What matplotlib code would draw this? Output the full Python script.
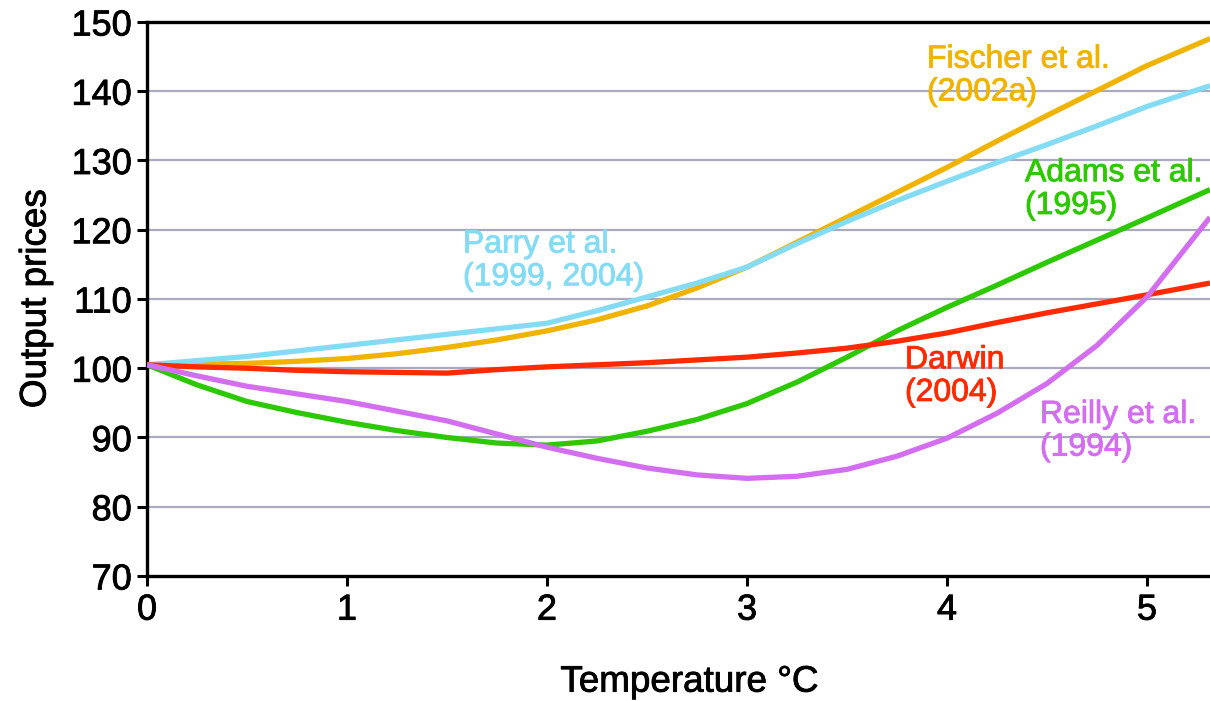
import matplotlib
matplotlib.use('Agg')
import matplotlib.pyplot as plt
import matplotlib.patheffects as pe

plt.rcParams['font.family'] = ['Liberation Sans', 'DejaVu Sans']

temps = [0, 0.25, 0.5, 0.75, 1.0, 1.25, 1.5, 1.75, 2.0, 2.25, 2.5, 2.75,
         3.0, 3.25, 3.5, 3.75, 4.0, 4.25, 4.5, 4.75, 5.0, 5.315]

fischer = [100.5, 100.6, 100.7, 101.0, 101.4, 102.1, 103.0, 104.1, 105.4, 107.0, 109.0, 111.6,
           114.6, 118.2, 121.8, 125.4, 129.0, 132.8, 136.5, 140.1, 143.7, 147.6]
parry = [100.5, 101.1, 101.7, 102.5, 103.3, 104.1, 104.9, 105.7, 106.5, 108.3, 110.3, 112.3,
         114.6, 118.0, 121.2, 124.2, 127.0, 129.7, 132.3, 135.0, 137.8, 140.8]
adams = [100.5, 97.6, 95.2, 93.6, 92.2, 91.0, 90.0, 89.2, 88.9, 89.5, 90.9, 92.6,
         94.9, 98.0, 101.6, 105.4, 108.8, 112.0, 115.3, 118.5, 121.7, 125.8]
darwin = [100.5, 100.2, 100.0, 99.7, 99.5, 99.4, 99.3, 99.8, 100.2, 100.5, 100.8, 101.2,
          101.6, 102.2, 102.9, 103.9, 105.1, 106.6, 108.0, 109.3, 110.6, 112.3]
reilly = [100.5, 98.9, 97.4, 96.3, 95.2, 93.8, 92.4, 90.5, 88.6, 87.0, 85.6, 84.6,
          84.1, 84.4, 85.4, 87.3, 89.9, 93.5, 97.8, 103.3, 110.3, 121.8]

labels = ['Fischer et al.\n(2002a)', 'Parry et al.\n(1999, 2004)', 'Adams et al.\n(1995)',
          'Darwin\n(2004)', 'Reilly et al.\n(1994)']
colors = ['#f0b400', '#84dcf4', '#2cc800', '#ff2a00', '#d46ef0']
series = [fischer, parry, adams, darwin, reilly]

yticks = [70, 80, 90, 100, 110, 120, 130, 140, 150]
xticks = [0, 1, 2, 3, 4, 5]

fig = plt.figure(figsize=(12.1, 7.01), dpi=100)
ax = fig.add_axes([147 / 1210, 1 - 576 / 701, 1 - 147 / 1210, 554 / 701])

# horizontal grid lines
for v in yticks[1:-1]:
    ax.axhline(v, color='#a9a9c0', lw=1.6, zorder=1)

for vals, col in zip(series, colors):
    ax.plot(temps, vals, color=col, lw=3.8, solid_capstyle='butt', zorder=3)

# curve labels, slightly thickened to match the heavier print face
label_pos = [(3.9, 142.2), (1.58, 115.5), (4.39, 125.8), (3.79, 98.8), (4.465, 90.9)]
for (x, y), txt, col in zip(label_pos, labels, colors):
    ax.text(x, y, txt, color=col, fontsize=23, ha='left', va='center',
            linespacing=1.12, zorder=4,
            path_effects=[pe.withStroke(linewidth=0.6, foreground=col)])

ax.set_xlim(0, 5.315)
ax.set_ylim(70, 150)
ax.set_xticks(xticks)
ax.set_yticks(yticks)
ax.tick_params(axis='both', direction='out', length=7, width=2.2, labelsize=26, pad=5)
ax.tick_params(axis='y', pad=4)

bold = [pe.withStroke(linewidth=0.6, foreground='black')]
for lab in ax.get_xticklabels() + ax.get_yticklabels():
    lab.set_path_effects(bold)

for side in ['left', 'bottom', 'top']:
    ax.spines[side].set_linewidth(2.4)
    ax.spines[side].set_color('black')
ax.spines['right'].set_visible(False)

ax.set_ylabel('Output prices', fontsize=26.5, path_effects=bold)
ax.set_xlabel('Temperature °C', fontsize=26.5, path_effects=bold)
ax.yaxis.set_label_coords(-0.088, 0.5)
ax.xaxis.set_label_coords(0.51, -0.16)

fig.savefig('out.png', dpi=100)
